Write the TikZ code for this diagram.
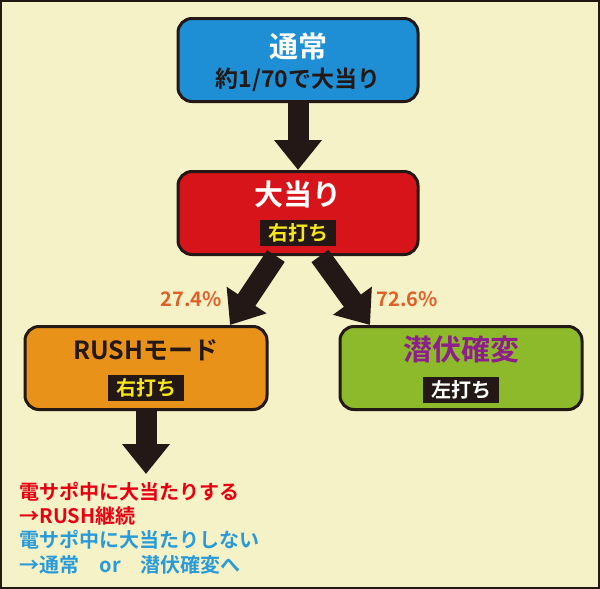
\documentclass[tikz,border=0pt]{standalone}
\usepackage{fontspec}
\setmainfont{Noto Sans CJK JP}[BoldFont={* Bold}]
\usetikzlibrary{arrows.meta}
\definecolor{bg}{HTML}{F5F2C8}
\definecolor{dk}{HTML}{231815}
\definecolor{cb}{HTML}{1E8FD5}
\definecolor{cr}{HTML}{D7141A}
\definecolor{co}{HTML}{E8921A}
\definecolor{cg}{HTML}{8CBA2A}
\definecolor{pu}{HTML}{8E1E8C}
\definecolor{pc}{HTML}{E0602A}
\definecolor{yl}{HTML}{F5E61E}
\definecolor{tr}{HTML}{E60012}
\definecolor{tb}{HTML}{2A9BD8}
\begin{document}
\begin{tikzpicture}[x=1pt,y=-1pt,font=\bfseries,
 box/.style={draw=dk,line width=3pt,rounded corners=14pt,minimum width=240pt,minimum height=83pt},
 tag/.style={fill=dk,inner xsep=8pt,inner ysep=4pt,font=\bfseries\fontsize{20}{20}\selectfont},
 arr/.style={dk,line width=21pt,-{Triangle[width=46pt,length=30pt]}},
 pct/.style={pc,font=\bfseries\fontsize{20}{20}\selectfont},
 bt/.style={anchor=west,font=\bfseries\fontsize{20}{20}\selectfont}]
\fill[bg] (0,0) rectangle (600,589);
\draw[dk,line width=1.5pt] (1,1) rectangle (599,588);
\node[box,fill=cb] (n) at (298,60) {};
\node[white,font=\bfseries\fontsize{29}{29}\selectfont] at (298,46) {通常};
\node[dk,font=\bfseries\fontsize{23}{23}\selectfont] at (298,80) {約1/70で大当り};
\node[box,fill=cr] (o) at (298,213) {};
\node[white,font=\bfseries\fontsize{29}{29}\selectfont] at (298,194) {大当り};
\node[tag,text=yl] at (298,233) {右打ち};
\node[box,fill=co,minimum width=242pt] (r) at (146,368) {};
\node[dk,font=\bfseries\fontsize{25}{25}\selectfont] at (146,350) {RUSHモード};
\node[tag,text=yl] at (146,388) {右打ち};
\node[box,fill=cg,minimum width=242pt] (s) at (461,368) {};
\node[pu,font=\bfseries\fontsize{29}{29}\selectfont] at (461,350) {潜伏確変};
\node[tag,text=white] at (461,390) {左打ち};
\coordinate (e) at (146,474);
\draw[arr] (n.south) -- (298,170);
\draw[arr] (o.south)++(-22,0) -- (230,325);
\draw[arr] (o.south)++(22,0) -- (370,325);
\draw[arr] (r.south) -- (e);
\node[pct] at (191,299) {27.4\%};
\node[pct] at (407,299) {72.6\%};
\node[bt,tr] at (16,492) {電サポ中に大当たりする};
\node[bt,tr] at (16,516) {→RUSH継続};
\node[bt,tb] at (16,540) {電サポ中に大当たりしない};
\node[bt,tb] at (16,565) {→通常　or　潜伏確変へ};
\end{tikzpicture}
\end{document}
